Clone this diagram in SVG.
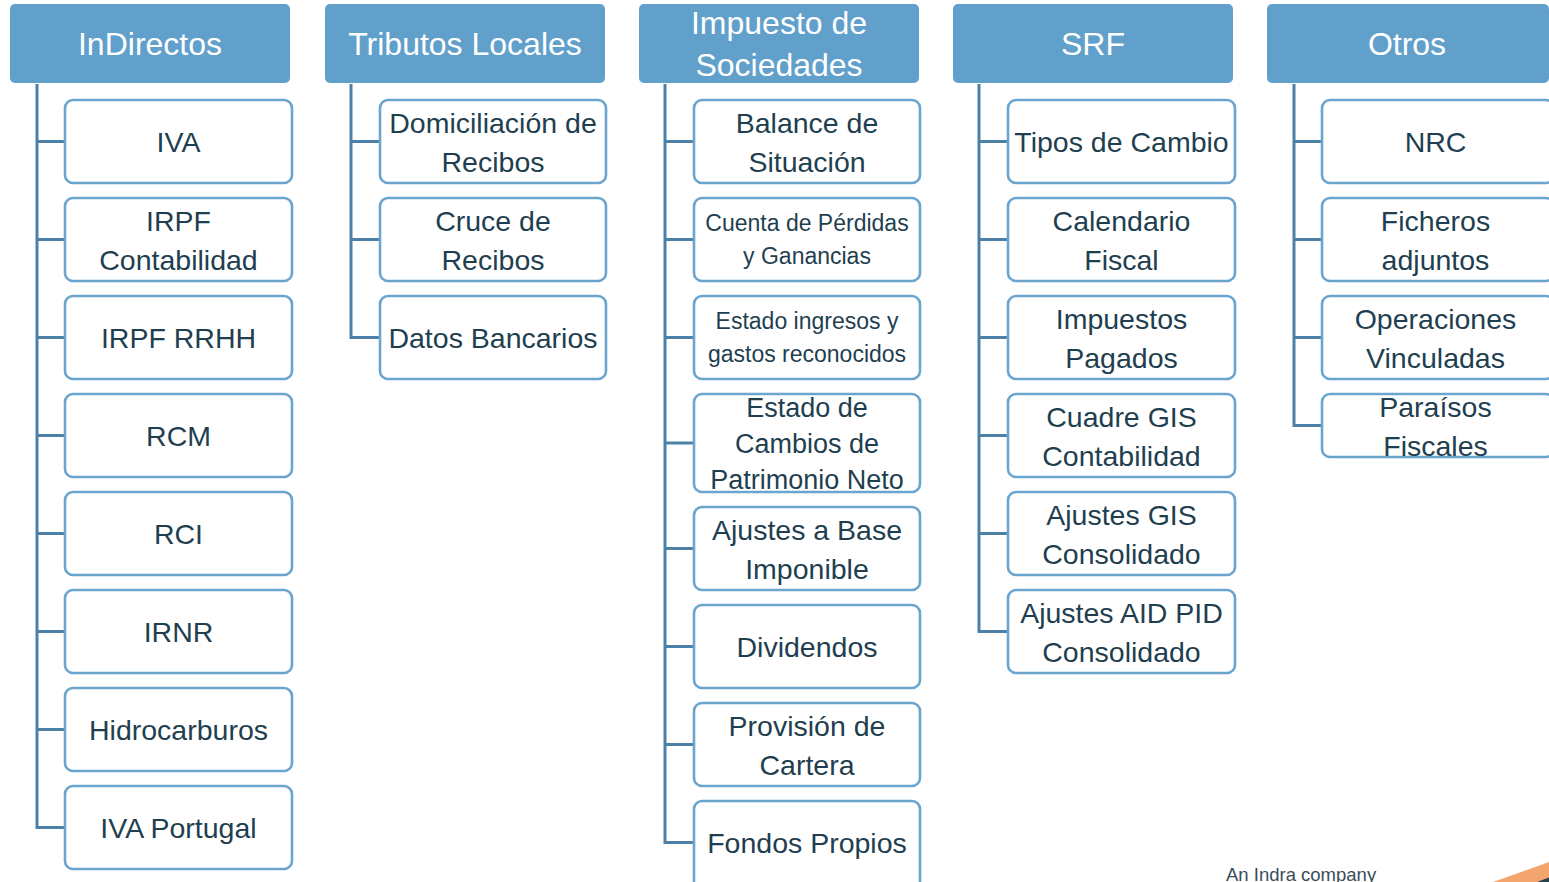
<svg xmlns="http://www.w3.org/2000/svg" width="1549" height="882" viewBox="0 0 1549 882">
<style>
.hd{fill:#62a0cc;}
.ht{fill:#ffffff;font-family:"Liberation Sans",Arial,sans-serif;font-size:32px;text-anchor:middle;}
.bx{fill:#ffffff;stroke:#6aa5d0;stroke-width:2.6;}
.t{fill:#1f3f50;font-family:"Liberation Sans",Arial,sans-serif;font-size:28.5px;text-anchor:middle;}
.s{font-size:23px;}
.m{font-size:27px;}
.ln{fill:none;stroke:#4d80a7;stroke-width:3;}
.ft{fill:#3a4d59;font-family:"Liberation Sans",Arial,sans-serif;font-size:18.5px;}
</style>
<rect width="1549" height="882" fill="#ffffff"/>
<g id="connectors">
<path class="ln" d="M37,84V827.5H65M37,141.5H65M37,239.5H65M37,337.5H65M37,435.5H65M37,533.5H65M37,631.5H65M37,729.5H65"/>
<path class="ln" d="M351,84V337.5H380M351,141.5H380M351,239.5H380"/>
<path class="ln" d="M665,84V842.5H694M665,141.5H694M665,239.5H694M665,337.5H694M665,443H694M665,548.5H694M665,646.5H694M665,744.5H694"/>
<path class="ln" d="M979,84V631.5H1008M979,141.5H1008M979,239.5H1008M979,337.5H1008M979,435.5H1008M979,533.5H1008"/>
<path class="ln" d="M1294,84V425.5H1322M1294,141.5H1322M1294,239.5H1322M1294,337.5H1322"/>
</g>
<g id="h1"><rect class="hd" x="10" y="4" width="280" height="79" rx="5"/><text class="ht" x="150" y="55">InDirectos</text></g>
<g id="h2"><rect class="hd" x="325" y="4" width="280" height="79" rx="5"/><text class="ht" x="465" y="55">Tributos Locales</text></g>
<g id="h3"><rect class="hd" x="639" y="4" width="280" height="79" rx="5"/><text class="ht" x="779" y="34">Impuesto de</text><text class="ht" x="779" y="76">Sociedades</text></g>
<g id="h4"><rect class="hd" x="953" y="4" width="280" height="79" rx="5"/><text class="ht" x="1093" y="55">SRF</text></g>
<g id="h5"><rect class="hd" x="1267" y="4" width="282" height="79" rx="5"/><text class="ht" x="1407" y="55">Otros</text></g>

<g id="c1n1"><rect class="bx" x="65" y="100" width="227" height="83" rx="8"/><text class="t" x="178.5" y="152">IVA</text></g>
<g id="c1n2"><rect class="bx" x="65" y="198" width="227" height="83" rx="8"/><text class="t" x="178.5" y="230.5">IRPF</text><text class="t" x="178.5" y="269.5">Contabilidad</text></g>
<g id="c1n3"><rect class="bx" x="65" y="296" width="227" height="83" rx="8"/><text class="t" x="178.5" y="348">IRPF RRHH</text></g>
<g id="c1n4"><rect class="bx" x="65" y="394" width="227" height="83" rx="8"/><text class="t" x="178.5" y="446">RCM</text></g>
<g id="c1n5"><rect class="bx" x="65" y="492" width="227" height="83" rx="8"/><text class="t" x="178.5" y="544">RCI</text></g>
<g id="c1n6"><rect class="bx" x="65" y="590" width="227" height="83" rx="8"/><text class="t" x="178.5" y="642">IRNR</text></g>
<g id="c1n7"><rect class="bx" x="65" y="688" width="227" height="83" rx="8"/><text class="t" x="178.5" y="740">Hidrocarburos</text></g>
<g id="c1n8"><rect class="bx" x="65" y="786" width="227" height="83" rx="8"/><text class="t" x="178.5" y="838">IVA Portugal</text></g>

<g id="c2n1"><rect class="bx" x="380" y="100" width="226" height="83" rx="8"/><text class="t" x="493" y="132.5">Domiciliación de</text><text class="t" x="493" y="171.5">Recibos</text></g>
<g id="c2n2"><rect class="bx" x="380" y="198" width="226" height="83" rx="8"/><text class="t" x="493" y="230.5">Cruce de</text><text class="t" x="493" y="269.5">Recibos</text></g>
<g id="c2n3"><rect class="bx" x="380" y="296" width="226" height="83" rx="8"/><text class="t" x="493" y="348">Datos Bancarios</text></g>

<g id="c3n1"><rect class="bx" x="694" y="100" width="226" height="83" rx="8"/><text class="t" x="807" y="132.5">Balance de</text><text class="t" x="807" y="171.5">Situación</text></g>
<g id="c3n2"><rect class="bx" x="694" y="198" width="226" height="83" rx="8"/><text class="t s" x="807" y="231">Cuenta de Pérdidas</text><text class="t s" x="807" y="264">y Ganancias</text></g>
<g id="c3n3"><rect class="bx" x="694" y="296" width="226" height="83" rx="8"/><text class="t s" x="807" y="329">Estado ingresos y</text><text class="t s" x="807" y="362">gastos reconocidos</text></g>
<g id="c3n4"><rect class="bx" x="694" y="394" width="226" height="98" rx="8"/><text class="t m" x="807" y="417">Estado de</text><text class="t m" x="807" y="453">Cambios de</text><text class="t m" x="807" y="489">Patrimonio Neto</text></g>
<g id="c3n5"><rect class="bx" x="694" y="507" width="226" height="83" rx="8"/><text class="t" x="807" y="539.5">Ajustes a Base</text><text class="t" x="807" y="578.5">Imponible</text></g>
<g id="c3n6"><rect class="bx" x="694" y="605" width="226" height="83" rx="8"/><text class="t" x="807" y="657">Dividendos</text></g>
<g id="c3n7"><rect class="bx" x="694" y="703" width="226" height="83" rx="8"/><text class="t" x="807" y="735.5">Provisión de</text><text class="t" x="807" y="774.5">Cartera</text></g>
<g id="c3n8"><rect class="bx" x="694" y="801" width="226" height="90" rx="8"/><text class="t" x="807" y="853">Fondos Propios</text></g>

<g id="c4n1"><rect class="bx" x="1008" y="100" width="227" height="83" rx="8"/><text class="t" x="1121.5" y="152">Tipos de Cambio</text></g>
<g id="c4n2"><rect class="bx" x="1008" y="198" width="227" height="83" rx="8"/><text class="t" x="1121.5" y="230.5">Calendario</text><text class="t" x="1121.5" y="269.5">Fiscal</text></g>
<g id="c4n3"><rect class="bx" x="1008" y="296" width="227" height="83" rx="8"/><text class="t" x="1121.5" y="328.5">Impuestos</text><text class="t" x="1121.5" y="367.5">Pagados</text></g>
<g id="c4n4"><rect class="bx" x="1008" y="394" width="227" height="83" rx="8"/><text class="t" x="1121.5" y="426.5">Cuadre GIS</text><text class="t" x="1121.5" y="465.5">Contabilidad</text></g>
<g id="c4n5"><rect class="bx" x="1008" y="492" width="227" height="83" rx="8"/><text class="t" x="1121.5" y="524.5">Ajustes GIS</text><text class="t" x="1121.5" y="563.5">Consolidado</text></g>
<g id="c4n6"><rect class="bx" x="1008" y="590" width="227" height="83" rx="8"/><text class="t" x="1121.5" y="622.5">Ajustes AID PID</text><text class="t" x="1121.5" y="661.5">Consolidado</text></g>

<g id="c5n1"><rect class="bx" x="1322" y="100" width="232" height="83" rx="8"/><text class="t" x="1435.5" y="152">NRC</text></g>
<g id="c5n2"><rect class="bx" x="1322" y="198" width="232" height="83" rx="8"/><text class="t" x="1435.5" y="230.5">Ficheros</text><text class="t" x="1435.5" y="269.5">adjuntos</text></g>
<g id="c5n3"><rect class="bx" x="1322" y="296" width="232" height="83" rx="8"/><text class="t" x="1435.5" y="328.5">Operaciones</text><text class="t" x="1435.5" y="367.5">Vinculadas</text></g>
<g id="c5n4"><rect class="bx" x="1322" y="394" width="232" height="63" rx="8"/><text class="t" x="1435.5" y="417">Paraísos</text><text class="t" x="1435.5" y="456">Fiscales</text></g>

<g id="footer">
<text class="ft" x="1226" y="881">An Indra company</text>
<polygon points="1493,882 1549,862 1549,882" fill="#f4a56d"/>
<polygon points="1537,882 1549,877.5 1549,882" fill="#26414f"/>
</g>
</svg>
